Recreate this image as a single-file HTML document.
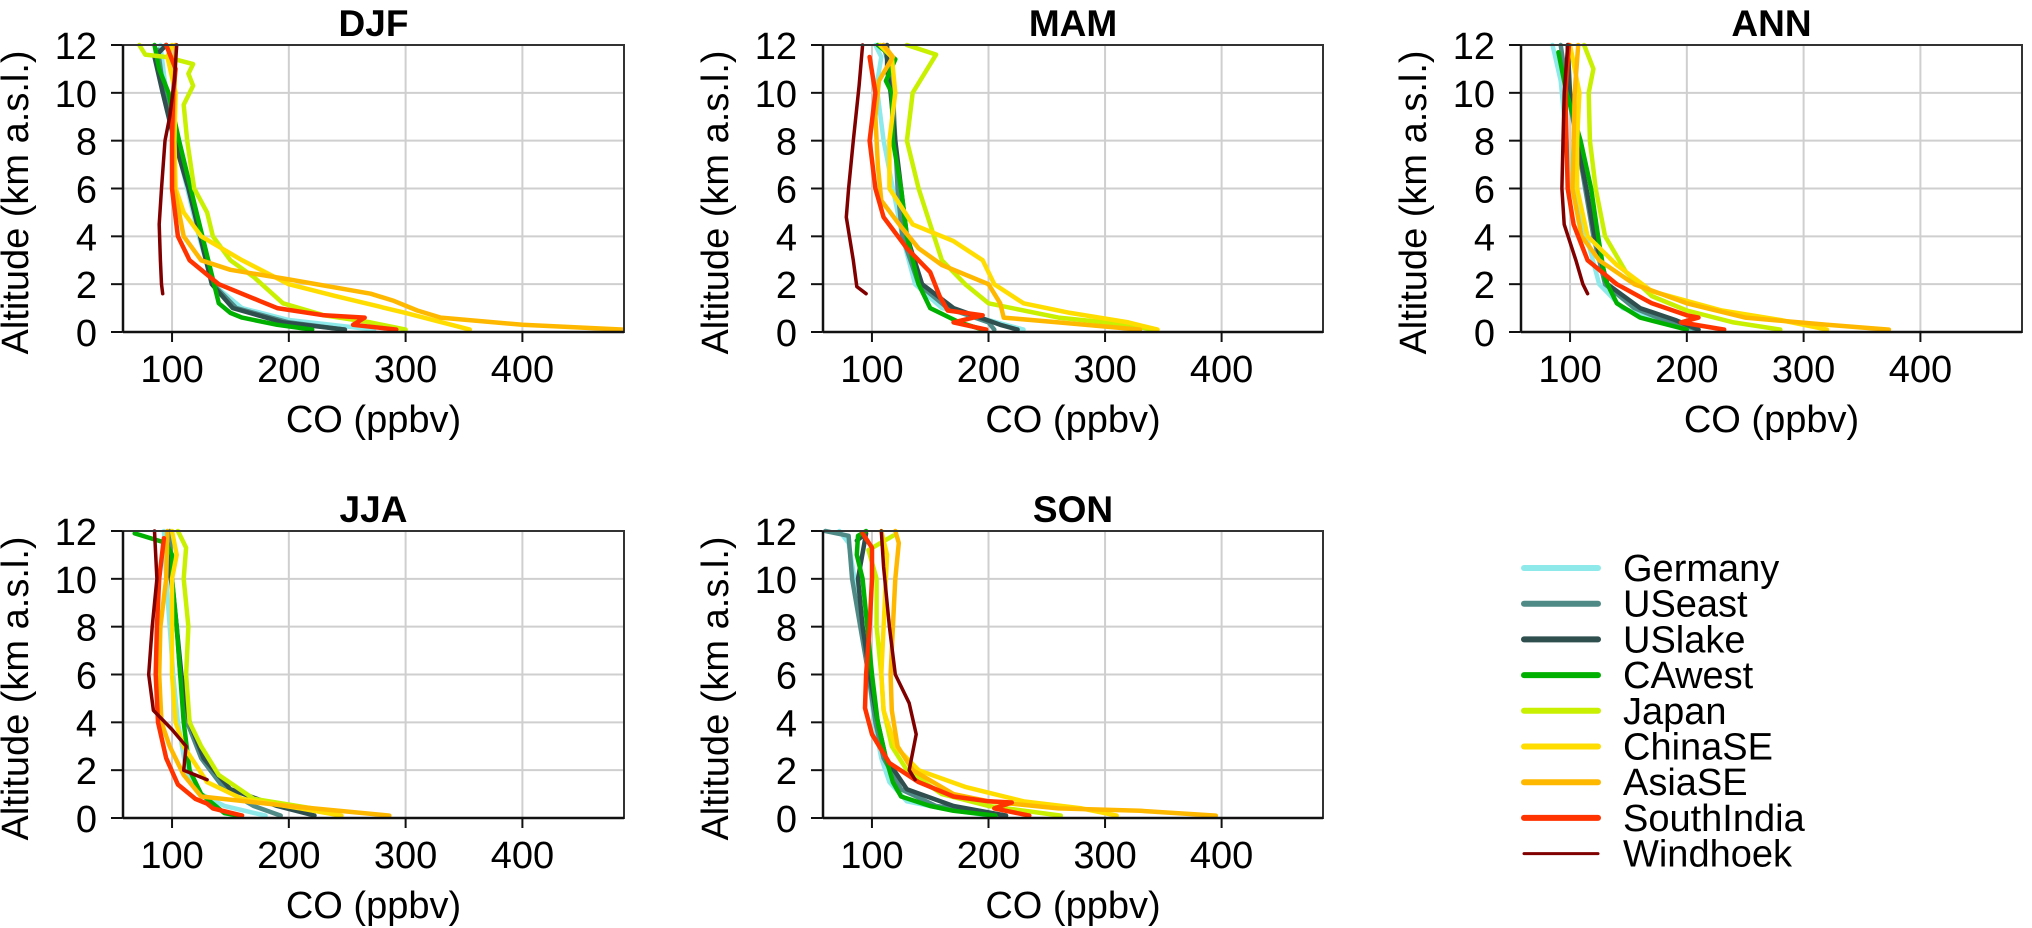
<!DOCTYPE html>
<html><head><meta charset="utf-8"><style>
html,body{margin:0;padding:0;background:#fff;}
svg{display:block;font-family:"Liberation Sans",Arial,sans-serif;}
</style></head><body>
<svg id="fig" width="2032" height="928" viewBox="0 0 2032 928" xmlns="http://www.w3.org/2000/svg"></svg>
<script>
const seriesNames = ["Germany","USeast","USlake","CAwest","Japan","ChinaSE","AsiaSE","SouthIndia","Windhoek"];
const seriesColors = ["#8eeaea","#4f8a86","#2f4f4f","#00b000","#c8f000","#ffdd00","#ffb800","#ff3300","#800000"];
const panelTitles = ["DJF","MAM","ANN","JJA","SON"];
const xTicks = [100,200,300,400];
const yTicks = [0,2,4,6,8,10,12];
const xDomain = [58,487];
const yDomain = [0,12];

const djf = [
 [[90,12],[95,10],[103,8],[113,6],[123,4],[135,2],[160,1],[200,0.5],[273,0.1]],
 [[88,11.8],[93,10],[103,8],[115,6],[125,4],[135,2],[155,1],[200,0.4],[248,0.1]],
 [[95,12],[85,11.5],[92,10],[102,8],[114,6],[124,4],[134,2],[152,1],[195,0.4],[248,0.1]],
 [[85,12],[89,11],[97,10],[106,8],[116,6],[126,4],[136,2],[140,1.2],[150,0.8],[160,0.6],[190,0.3],[220,0.1]],
 [[72,12],[77,11.6],[95,11.5],[118,11.2],[114,10.8],[118,10.3],[110,9.5],[113,8],[119,6],[130,5],[135,4],[150,3],[170,2.3],[195,1.2],[230,0.7],[270,0.4],[300,0.1]],
 [[100,12],[96,11.5],[103,10],[102,8],[103,6],[110,5],[125,4],[160,3],[200,2],[240,1.5],[300,0.8],[355,0.1]],
 [[103,12],[102,10],[101,8],[102,6],[110,4],[125,3],[150,2.6],[200,2.2],[270,1.6],[290,1.3],[310,0.9],[330,0.6],[400,0.3],[487,0.1]],
 [[95,12],[103,11],[101,10],[100,8],[100,6],[105,4],[115,3],[140,2],[175,1.3],[190,1],[230,0.7],[265,0.6],[255,0.3],[292,0.1]],
 [[104,12],[102,10.5],[98,9],[94,8],[91,6],[89,4.5],[90,3],[91,2],[92,1.6]]
];
const mam = [
 [[103,12],[108,11.5],[104,10.3],[110,8],[118,6],[126,4],[137,2],[160,1],[200,0.5],[230,0.1]],
 [[110,12],[115,11],[118,10],[120,8],[122,6],[126,4],[140,2],[165,1],[200,0.4],[205,0.1]],
 [[113,12],[113,11],[116,10],[120,8],[125,6],[130,4],[143,2],[170,1],[210,0.3],[225,0.1]],
 [[105,12],[120,11.4],[112,10.5],[117,10],[118,8],[125,6],[130,4],[140,2],[150,1],[175,0.4],[195,0.1]],
 [[130,12],[155,11.6],[135,10],[130,8],[140,6],[150,4.5],[160,3],[180,2],[200,1.2],[260,0.6],[320,0.3],[340,0.1]],
 [[107,12],[117,11.5],[120,10],[115,8],[115,6],[135,4.5],[170,3.8],[195,3],[205,2],[230,1.2],[270,0.8],[320,0.4],[345,0.1]],
 [[110,12],[118,11.5],[106,10.5],[103,9],[105,7],[108,5.5],[125,4.4],[140,3.5],[160,2.8],[200,2],[210,1.2],[213,0.6],[260,0.4],[330,0.1]],
 [[98,11.5],[103,10],[98,8],[103,6],[110,4.8],[130,3.5],[150,2.5],[158,1.5],[165,0.9],[195,0.7],[170,0.4],[198,0.1]],
 [[92,12],[89,10.3],[84,8],[80,6],[78,4.8],[84,3],[87,1.9],[95,1.6]]
];
const ann = [
 [[85,12],[92,10.5],[97,8],[105,6],[114,4],[125,2],[145,1],[175,0.5],[205,0.1]],
 [[92,12],[98,10],[106,8],[113,6],[120,4],[130,2],[155,1],[180,0.5],[210,0.1]],
 [[98,12],[100,10],[106,8],[114,6],[121,4],[132,2],[160,1],[190,0.5],[210,0.1]],
 [[90,11.7],[97,10],[109,8],[118,6],[124,4],[130,2.2],[140,1.2],[160,0.6],[200,0.1]],
 [[112,12],[120,11],[116,10],[117,8],[122,6],[130,4],[148,2.5],[170,1.5],[200,0.9],[240,0.4],[280,0.1]],
 [[100,12],[108,10],[106,8],[106,6],[115,4],[140,2.8],[170,1.7],[230,0.9],[280,0.5],[320,0.1]],
 [[107,12],[104,10],[103,8],[102,6],[110,4],[125,3],[155,2],[200,1.2],[250,0.6],[320,0.3],[373,0.1]],
 [[99,12],[96,10],[97,8],[98,6],[103,4.5],[115,3],[140,2],[170,1.2],[200,0.7],[210,0.6],[195,0.4],[232,0.1]],
 [[98,12],[95,10],[94,8],[93,6],[95,4.5],[105,3],[111,2],[115,1.6]]
];
const jja = [
 [[93,12],[95,10],[98,8],[101,6],[105,4],[112,2],[125,1],[145,0.5],[180,0.1]],
 [[98,12],[100,10],[104,8],[107,6],[113,4],[125,2.5],[145,1.2],[170,0.5],[193,0.1]],
 [[96,11.5],[99,10],[104,8],[108,6],[115,4],[127,2.5],[150,1.2],[190,0.5],[222,0.1]],
 [[68,11.9],[95,11.5],[100,11],[100,10],[104,8],[107,6],[110,4],[115,2],[125,1],[145,0.2],[157,0.1]],
 [[105,12],[112,11.3],[110,10],[114,8],[112,6],[115,4],[125,3],[140,1.8],[170,0.8],[220,0.4],[243,0.1]],
 [[100,12],[104,11],[100,10],[100,8],[100,6],[103,4],[110,3],[130,1.5],[160,0.8],[210,0.4],[245,0.1]],
 [[96,12],[95,10],[90,8],[89,6],[91,4],[98,3],[110,1.8],[125,0.9],[200,0.5],[286,0.1]],
 [[93,11.7],[89,10],[87,8],[86,6],[88,4],[95,2.5],[105,1.4],[120,0.8],[130,0.6],[135,0.4],[160,0.1]],
 [[85,12],[87,10],[83,8],[80,6],[84,4.5],[100,3.7],[112,3],[110,2],[130,1.6]]
];
const son = [
 [[72,12],[80,11.5],[85,10],[92,8],[97,6],[102,4],[108,2.5],[115,1.5],[130,0.7],[160,0.4],[200,0.1]],
 [[60,12],[80,11.8],[83,10],[90,8],[97,6],[103,4],[110,2.5],[125,1.2],[155,0.5],[200,0.2],[215,0.1]],
 [[87,11.6],[95,11.9],[88,10],[92,8],[98,6],[105,4],[112,2.5],[130,1.2],[170,0.5],[215,0.1]],
 [[95,12],[88,11.8],[87,11],[92,10],[96,8],[100,6],[105,4],[112,2.5],[118,1.5],[125,0.9],[150,0.5],[170,0.3],[206,0.1]],
 [[118,11.8],[97,11.2],[104,10],[104,8],[108,6],[110,4.5],[117,3],[130,2],[160,1],[200,0.5],[262,0.1]],
 [[108,12],[113,11],[112,10],[110,8],[108,6],[110,4.5],[120,3],[140,2],[180,1.3],[230,0.7],[280,0.4],[310,0.1]],
 [[120,12],[123,11.5],[120,10],[118,8],[116,6],[117,4.5],[122,3],[135,2],[170,1],[200,0.7],[260,0.4],[330,0.3],[395,0.1]],
 [[92,11.9],[100,11.3],[100,10],[98,8],[95,6],[94,4.6],[100,3.5],[115,2.3],[140,1.5],[170,0.9],[200,0.7],[220,0.65],[205,0.4],[235,0.1]],
 [[108,12],[110,10.5],[115,8],[120,6],[132,4.8],[138,3.5],[132,2],[137,1.6]]
];
const panelData = [djf, mam, ann, jja, son];

const NS = "http://www.w3.org/2000/svg";
const svg = document.getElementById("fig");
const boxes = [
 {l:123,t:45,w:501,h:287},{l:823,t:45,w:500,h:287},{l:1521,t:45,w:501,h:287},
 {l:123,t:531,w:501,h:287},{l:823,t:531,w:500,h:287}
];
function mk(tag, attrs, parent){
  const e = document.createElementNS(NS, tag);
  for (const k in attrs) e.setAttribute(k, attrs[k]);
  (parent||svg).appendChild(e); return e;
}
boxes.forEach((b, pi) => {
  const sx = v => b.l + (v - xDomain[0]) / (xDomain[1] - xDomain[0]) * b.w;
  const sy = v => b.t + b.h - (v - yDomain[0]) / (yDomain[1] - yDomain[0]) * b.h;
  const g = mk("g", {});
  
  
  xTicks.forEach(t => {
    const x = sx(t);
    const gl = mk("line", {x1:x,x2:x,y1:b.t,y2:b.t+b.h,stroke:"#cfcfcf","stroke-width":2}, g);
    
    
    mk("line", {x1:x,x2:x,y1:b.t+b.h,y2:b.t+b.h+10,stroke:"#111","stroke-width":2}, g);
    const tx = mk("text", {x:x,y:b.t+b.h+50,"font-size":38,"text-anchor":"middle",fill:"#000"}, g);
    tx.textContent = t;
    
    
  });
  yTicks.forEach(t => {
    const y = sy(t);
    const gl = mk("line", {x1:b.l,x2:b.l+b.w,y1:y,y2:y,stroke:"#cfcfcf","stroke-width":2}, g);
    
    
    mk("line", {x1:b.l-12,x2:b.l,y1:y,y2:y,stroke:"#111","stroke-width":2}, g);
    const tx = mk("text", {x:b.l-26,y:y+14,"font-size":38,"text-anchor":"end",fill:"#000"}, g);
    tx.textContent = t;
    
    
  });
  const clipId = "clip" + pi;
  const cp = mk("clipPath", {id: clipId}, g);
  mk("rect", {x:b.l, y:b.t-3, width:b.w, height:b.h+3}, cp);
  const lg = mk("g", {"clip-path":"url(#" + clipId + ")"}, g);
  panelData[pi].forEach((pts, si) => {
    const d = pts.map((p, i) => (i ? "L" : "M") + sx(p[0]).toFixed(1) + "," + sy(p[1]).toFixed(1)).join(" ");
    const path = mk("path", {d:d, fill:"none", stroke:seriesColors[si], "stroke-width": si === 8 ? 3.5 : 4.5, "stroke-linejoin":"round", "stroke-linecap":"round"}, lg);
    
    
  });
  const fr = mk("rect", {x:b.l,y:b.t,width:b.w,height:b.h,fill:"none",stroke:"#333","stroke-width":2}, g);
  
  
  mk("line", {x1:b.l,x2:b.l,y1:b.t,y2:b.t+b.h,stroke:"#111","stroke-width":2.5}, g);
  mk("line", {x1:b.l,x2:b.l+b.w,y1:b.t+b.h,y2:b.t+b.h,stroke:"#111","stroke-width":2.5}, g);
  const ti = mk("text", {x:b.l+b.w/2,y:b.t-9,"font-size":37,"font-weight":"bold","text-anchor":"middle",fill:"#000"}, g);
  ti.textContent = panelTitles[pi];
  
  
  const xl = mk("text", {x:b.l+b.w/2,y:b.t+b.h+100,"font-size":38,"text-anchor":"middle",fill:"#000"}, g);
  xl.textContent = "CO (ppbv)";
  
  
  const cx = b.l - 95, cy = b.t + b.h/2 + 14;
  const yl = mk("text", {x:cx,y:cy,"font-size":38,"text-anchor":"middle",fill:"#000",transform:"rotate(-90 " + cx + " " + cy + ")"}, g);
  yl.textContent = "Altitude (km a.s.l.)";
  
  
});
const leg = mk("g", {});


seriesNames.forEach((n, i) => {
  const y = 568 + i * 35.7;
  const ln = mk("line", {x1:1524,x2:1598,y1:y,y2:y,stroke:seriesColors[i],"stroke-width": i === 8 ? 3 : 6,"stroke-linecap":"round"}, leg);
  
  
  const t = mk("text", {x:1623,y:y+13,"font-size":38,fill:"#000"}, leg);
  t.textContent = n;
  
  
});
</script>
</body></html>
